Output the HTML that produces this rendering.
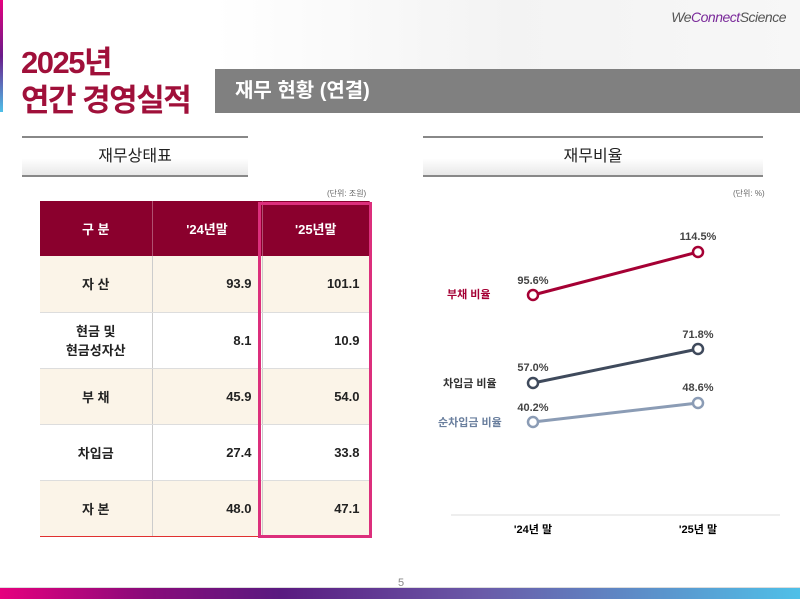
<!DOCTYPE html>
<html><head><meta charset="utf-8"><style>
*{margin:0;padding:0;box-sizing:border-box}
body{width:800px;height:599px;position:relative;background:#fff;font-family:"Liberation Sans","Noto Sans CJK KR",sans-serif;overflow:hidden}
.a{position:absolute}
.title{color:#a0103a;font-size:31px;font-weight:bold;letter-spacing:-1.5px;line-height:38px}
.sec{position:absolute;height:41px;border-top:2px solid #888;border-bottom:2px solid #888;background:linear-gradient(#fff,#fff 55%,#e8e8e8);text-align:center;font-size:16px;line-height:38px;color:#222}
table{border-collapse:collapse;position:absolute;left:40px;top:201px;width:330px;font-weight:bold;font-size:13px}
td{height:56px;border-bottom:1px solid #ddd;border-right:1px solid #ccc;color:#222}
td:last-child{border-right:none}
th{height:55px;background:#8a002d;color:#fff;font-size:13px;border-right:1px solid #b05070}
tr.c td{background:#fbf4e8}
td.n{text-align:right;padding-right:10px}
td.l{text-align:center}
</style></head><body>
<div class="a" style="left:0;top:0;width:3px;height:112px;background:linear-gradient(#e6007e,#6a1b8a 50%,#4fc0e8)"></div>
<div class="a" style="left:215px;top:0;width:585px;height:69px;background:linear-gradient(90deg,#fff,#f3f3f3 50%,#f7f7f7)"></div>
<div class="a" style="right:14px;top:9px;font-size:14px;font-style:italic;color:#555;letter-spacing:-0.5px">We<span style="color:#7a2a9a">Connect</span>Science</div>
<div class="a title" style="left:21px;top:44px">2025년<br>연간 경영실적</div>
<div class="a" style="left:215px;top:69px;width:585px;height:44px;background:#808080;color:#fff;font-size:20px;font-weight:bold;line-height:44px;padding-left:20px">재무 현황 (연결)</div>
<div class="sec" style="left:22px;top:136px;width:226px">재무상태표</div>
<div class="sec" style="left:423px;top:136px;width:340px">재무비율</div>
<div class="a" style="left:327px;top:188px;font-size:8px;color:#666">(단위: 조원)</div>
<div class="a" style="left:733px;top:188px;font-size:8px;color:#666">(단위: %)</div>
<table>
<tr><th style="width:112px">구 분</th><th style="width:110px">'24년말</th><th>'25년말</th></tr>
<tr class="c"><td class="l">자 산</td><td class="n">93.9</td><td class="n">101.1</td></tr>
<tr><td class="l">현금 및<br>현금성자산</td><td class="n">8.1</td><td class="n">10.9</td></tr>
<tr class="c"><td class="l">부 채</td><td class="n">45.9</td><td class="n">54.0</td></tr>
<tr><td class="l">차입금</td><td class="n">27.4</td><td class="n">33.8</td></tr>
<tr class="c"><td class="l" style="border-bottom:1px solid #e03030">자 본</td><td class="n" style="border-bottom:1px solid #e03030">48.0</td><td class="n" style="border-bottom:1px solid #e03030">47.1</td></tr>
</table>
<div class="a" style="left:258px;top:202px;width:114px;height:336px;border:3px solid #dc2f7c"></div>
<svg class="a" style="left:0;top:0" width="800" height="599" font-family="Liberation Sans, Noto Sans CJK KR, sans-serif" font-weight="bold" font-size="11">
<line x1="451" y1="515" x2="780" y2="515" stroke="#ddd"/>
<line x1="533" y1="295" x2="698" y2="252" stroke="#a50034" stroke-width="3"/>
<line x1="533" y1="383" x2="698" y2="349" stroke="#3f4a5c" stroke-width="3"/>
<line x1="533" y1="422" x2="698" y2="403" stroke="#8b9cb5" stroke-width="3"/>
<g fill="#fff" stroke-width="2.5">
<circle cx="533" cy="295" r="5" stroke="#a50034"/><circle cx="698" cy="252" r="5" stroke="#a50034"/>
<circle cx="533" cy="383" r="5" stroke="#3f4a5c"/><circle cx="698" cy="349" r="5" stroke="#3f4a5c"/>
<circle cx="533" cy="422" r="5" stroke="#8b9cb5"/><circle cx="698" cy="403" r="5" stroke="#8b9cb5"/>
</g>
<g fill="#444" text-anchor="middle" font-size="11">
<text x="533" y="284">95.6%</text><text x="698" y="240">114.5%</text>
<text x="533" y="371">57.0%</text><text x="698" y="338">71.8%</text>
<text x="533" y="411">40.2%</text><text x="698" y="391">48.6%</text>
</g>
<text x="447" y="298" fill="#a50034" font-size="11">부채 비율</text>
<text x="443" y="387" fill="#333" font-size="11">차입금 비율</text>
<text x="438" y="426" fill="#6a7f9e" font-size="11">순차입금 비율</text>
<text x="533" y="533" text-anchor="middle" fill="#000" font-size="11">'24년 말</text>
<text x="698" y="533" text-anchor="middle" fill="#000" font-size="11">'25년 말</text>
<text x="401" y="586" text-anchor="middle" fill="#888" font-weight="normal" font-size="11">5</text>
</svg>
<div class="a" style="left:0;top:587px;width:800px;height:1px;background:#ddd"></div>
<div class="a" style="left:0;top:588px;width:800px;height:11px;background:linear-gradient(90deg,#e6007e,#8a0a7a 18%,#5a1a80 35%,#6a5aa8 60%,#4fc0e8)"></div>
</body></html>
